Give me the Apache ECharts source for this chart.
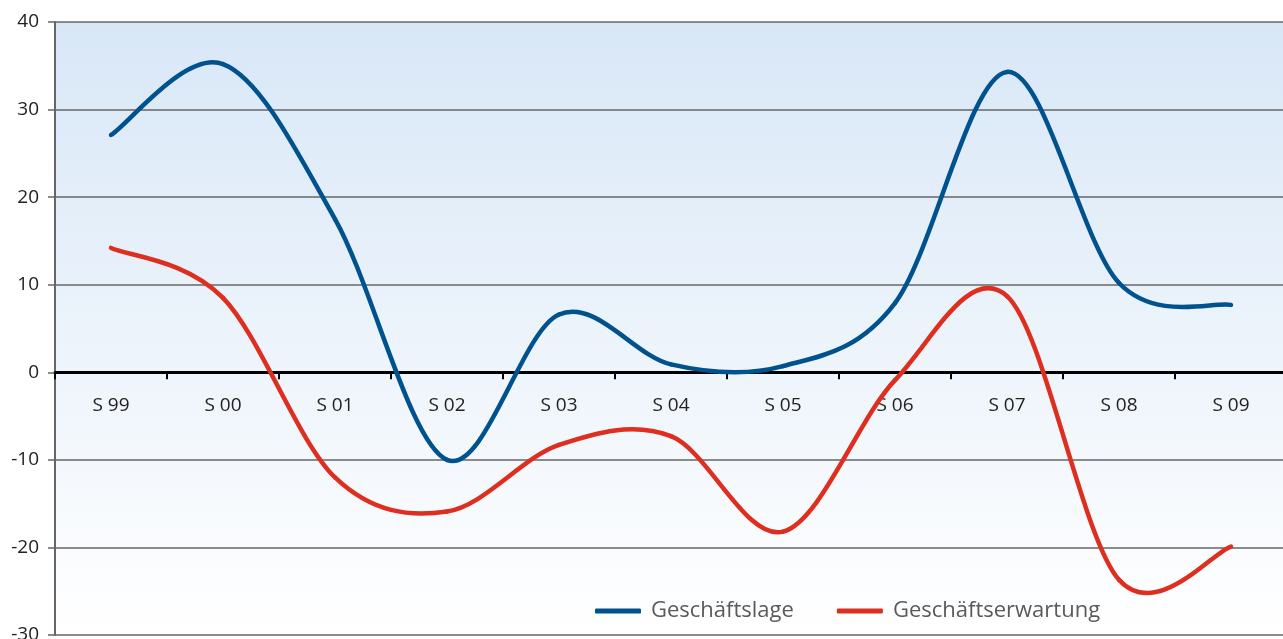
<!DOCTYPE html>
<html>
<head>
<meta charset="utf-8">
<script src="https://cdn.jsdelivr.net/npm/echarts@6/dist/echarts.min.js"></script>
<style>
html,body{margin:0;padding:0;background:#fff;}
#chart{width:1283px;height:639px;}
</style>
</head>
<body>
<div id="chart"></div>
<script>
var categories = ['S 99','S 00','S 01','S 02','S 03','S 04','S 05','S 06','S 07','S 08','S 09'];
var geschaeftslage = [27.1, 35.2, 17.5, -10.0, 6.6, 0.9, 0.7, 7.9, 34.3, 10.2, 7.7];
var geschaeftserwartung = [14.2, 8.5, -12.0, -15.9, -8.3, -7.3, -18.2, -0.9, 8.7, -23.7, -19.9];
var yTicks = {min: -30, max: 40, interval: 10};

var BLUE = '#00528e', RED = '#dd2e1f';

// Smooth curve (Catmull-Rom style Bezier) through the data points, positioned with api.coord
function makeRender(values, color) {
  return function (params, api) {
    var i = params.dataIndex, n = values.length;
    if (i >= n - 1) return null;
    function pt(j) {
      j = Math.max(0, Math.min(n - 1, j));
      return api.coord([j, values[j]]);
    }
    var p0 = pt(i - 1), p1 = pt(i), p2 = pt(i + 1), p3 = pt(i + 2);
    return {
      type: 'bezierCurve',
      shape: {
        x1: p1[0], y1: p1[1], x2: p2[0], y2: p2[1],
        cpx1: p1[0] + (p2[0] - p0[0]) / 6, cpy1: p1[1] + (p2[1] - p0[1]) / 6,
        cpx2: p2[0] - (p3[0] - p1[0]) / 6, cpy2: p2[1] - (p3[1] - p1[1]) / 6
      },
      style: {stroke: color, lineWidth: 4.5, fill: null, lineCap: 'round'}
    };
  };
}

var chart = echarts.init(document.getElementById('chart'));
chart.setOption({
  animation: false,
  backgroundColor: '#ffffff',
  grid: {
    left: 55, top: 22, width: 1232, height: 613,
    containLabel: false,
    outerBoundsMode: 'none',
    show: true,
    borderWidth: 0,
    backgroundColor: new echarts.graphic.LinearGradient(0, 0, 0, 1, [
      {offset: 0, color: '#d8e7f7'},
      {offset: 1, color: '#ffffff'}
    ])
  },
  legend: {
    left: 595, top: 600,
    padding: 0,
    icon: 'roundRect',
    itemWidth: 46, itemHeight: 5,
    itemGap: 43,
    textStyle: {fontFamily: 'Open Sans', fontSize: 22, color: '#5a5a5a', padding: [0, 0, 0, 5]},
    data: [
      {name: 'Geschäftslage', itemStyle: {color: BLUE}},
      {name: 'Geschäftserwartung', itemStyle: {color: RED}}
    ]
  },
  xAxis: [
    {
      type: 'category',
      data: categories,
      boundaryGap: true,
      axisLine: {onZero: true, lineStyle: {color: '#000', width: 3}},
      axisTick: {show: true, length: 7, lineStyle: {color: '#000', width: 2}},
      axisLabel: {show: false},
      splitLine: {show: false}
    },
    {
      type: 'category',
      data: categories,
      boundaryGap: true,
      position: 'bottom',
      offset: -262.5,
      axisLine: {show: false, onZero: false},
      axisTick: {show: false},
      axisLabel: {show: true, interval: 0, margin: 24, fontFamily: 'Open Sans', fontSize: 19, color: '#222'},
      splitLine: {show: false}
    }
  ],
  yAxis: {
    type: 'value',
    min: yTicks.min, max: yTicks.max, interval: yTicks.interval,
    axisLine: {show: true, lineStyle: {color: '#666', width: 2}},
    axisTick: {show: true, length: 7, lineStyle: {color: '#666', width: 1.5}},
    axisLabel: {margin: 16, fontFamily: 'Open Sans', fontSize: 19, color: '#222'},
    splitLine: {show: true, lineStyle: {color: '#666', width: 1.5}}
  },
  series: [
    {
      name: 'Geschäftslage', type: 'custom', xAxisIndex: 0,
      data: geschaeftslage.map(function (v, i) { return [i, v]; }),
      encode: {x: 0, y: 1},
      itemStyle: {color: BLUE},
      renderItem: makeRender(geschaeftslage, BLUE),
      z: 3
    },
    {
      name: 'Geschäftserwartung', type: 'custom', xAxisIndex: 0,
      data: geschaeftserwartung.map(function (v, i) { return [i, v]; }),
      encode: {x: 0, y: 1},
      itemStyle: {color: RED},
      renderItem: makeRender(geschaeftserwartung, RED),
      z: 3
    }
  ]
});
</script>
</body>
</html>
